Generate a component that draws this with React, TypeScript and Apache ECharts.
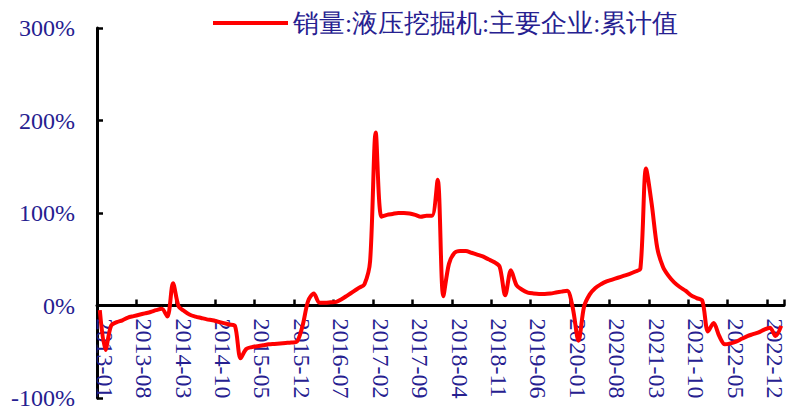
import React, { useEffect, useRef } from "react";
import * as echarts from "echarts";

// Monthly categories 2013-01 .. 2023-02
const startYear = 2013;
const monthCount = 122;
const categories: string[] = [];
for (let k = 0; k < monthCount; k++) {
  const y = startYear + Math.floor(k / 12);
  const m = (k % 12) + 1;
  categories.push(`${y}-${m < 10 ? "0" + m : m}`);
}

const seriesName = "销量:液压挖掘机:主要企业:累计值";

// YoY cumulative growth, %
const v2013 = [-5, -48, -22, -18, -16, -13, -11.5, -10, -8.5, -7, -5, -3.5];
const v2014 = [-12, 24, -1, -6, -10, -12, -13.5, -15, -16, -17.5, -19, -20.5];
const v2015 = [-22, -57, -47, -45, -44, -43, -42, -41.5, -41, -40.5, -40, -39];
const v2016 = [-22, 5, 13, 3, 3, 3.5, 4, 7, 11, 15, 19, 23];
const v2017 = [48, 187, 96, 98, 99, 100, 100, 99.5, 98, 96, 97, 97];
const v2018 = [136, 10, 45, 57, 59, 59, 57, 55, 53, 50, 47, 42];
const v2019 = [11, 38, 22, 17, 14, 13, 12.5, 12.5, 13, 14, 15, 16];
const v2020 = [-3, -38, -1, 12, 19, 23, 26, 28, 30, 32, 34, 36.5];
const v2021 = [40, 148, 110, 62, 42, 32, 25, 20, 16, 11, 8, 5];
const v2022 = [-28, -19, -33, -42, -41, -39, -36, -33, -31, -29, -26, -24];
const v2023 = [-33, -22];

const values = [
  ...v2013, ...v2014, ...v2015, ...v2016, ...v2017, ...v2018,
  ...v2019, ...v2020, ...v2021, ...v2022, ...v2023,
];

const yMin = -100;
const yMax = 300;
const yStep = 100;

const NAVY = "#262090";
const SERIF = "Liberation Serif";

const GRID_TOP = 28;
const GRID_BOTTOM = 12;
const GRID_HEIGHT = 410 - GRID_TOP - GRID_BOTTOM;
// place the category axis at the zero line
const zeroOffset = -GRID_HEIGHT * ((0 - yMin) / (yMax - yMin));

export default function App() {
  const ref = useRef<HTMLDivElement>(null);
  useEffect(() => {
    if (!ref.current) return;
    const chart = echarts.init(ref.current, undefined, { renderer: "svg" });
    chart.setOption({
      animation: false,
      backgroundColor: "#ffffff",
      legend: {
        left: 213,
        top: 10,
        padding: 0,
        icon: "rect",
        itemWidth: 75,
        itemHeight: 4,
        itemGap: 10,
        textStyle: { color: NAVY, fontSize: 25.5, fontFamily: SERIF },
        data: [seriesName],
      },
      grid: {
        left: 97,
        right: 3,
        top: GRID_TOP,
        bottom: GRID_BOTTOM,
        containLabel: false,
        outerBoundsMode: "none",
      },
      xAxis: {
        type: "category",
        data: categories,
        boundaryGap: true,
        offset: zeroOffset,
        axisLine: { onZero: false, lineStyle: { color: "#000", width: 3 } },
        axisTick: { show: true, inside: true, length: 6, interval: 6, lineStyle: { color: "#000", width: 2.5 } },
        axisLabel: {
          interval: 6,
          rotate: -90,
          margin: 13,
          color: NAVY,
          fontSize: 24,
          fontFamily: SERIF,
          verticalAlign: "bottom",
          lineHeight: 10,
        },
        splitLine: { show: false },
      },
      yAxis: {
        type: "value",
        min: yMin,
        max: yMax,
        interval: yStep,
        axisLine: { show: true, lineStyle: { color: "#000", width: 3 } },
        axisTick: { show: true, inside: true, length: 6, lineStyle: { color: "#000", width: 2.5 } },
        axisLabel: {
          formatter: "{value}%",
          margin: 22,
          color: NAVY,
          fontSize: 24,
          fontFamily: SERIF,
        },
        splitLine: { show: false },
      },
      series: [
        {
          name: seriesName,
          type: "line",
          data: values,
          smooth: 0.3,
          symbol: "none",
          lineStyle: { color: "#ff0000", width: 4 },
          itemStyle: { color: "#ff0000" },
        },
      ],
    });
    return () => chart.dispose();
  }, []);
  return (
    <div
      ref={ref}
      style={{ position: "fixed", left: 0, top: 0, width: 787, height: 410 }}
    />
  );
}
